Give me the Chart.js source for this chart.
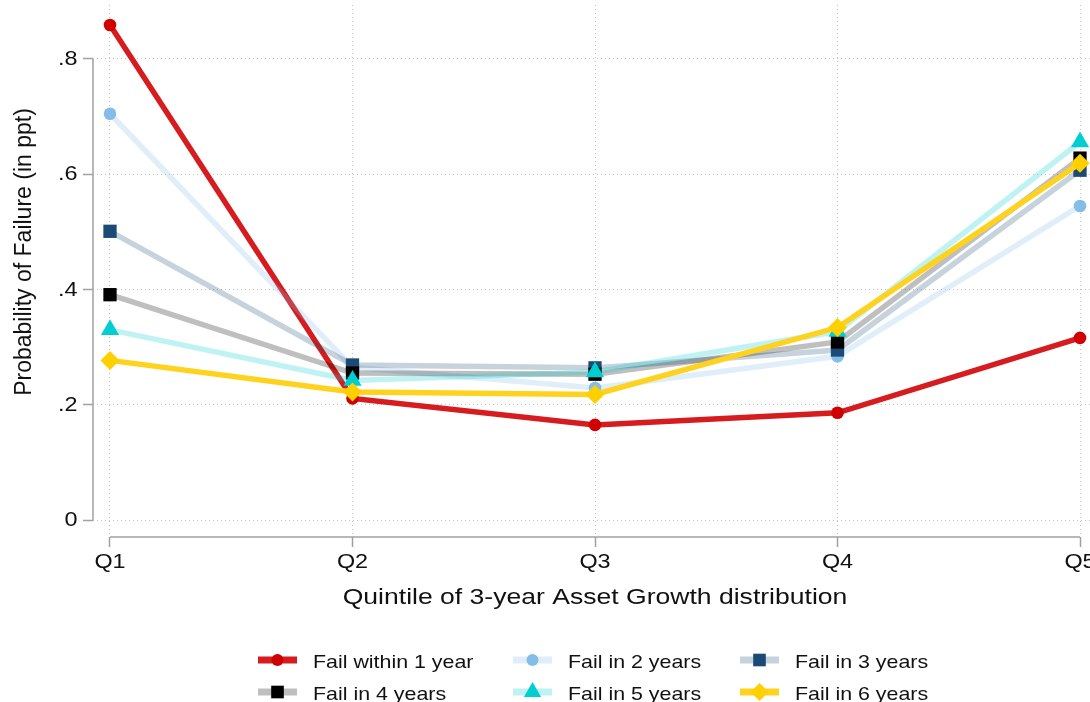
<!DOCTYPE html>
<html>
<head>
<meta charset="utf-8">
<script src="https://cdn.jsdelivr.net/npm/chart.js@4.4.1/dist/chart.umd.min.js"></script>
<style>
  html, body { margin: 0; padding: 0; background: #ffffff; }
  #wrap { width: 1090px; height: 702px; position: relative; }
</style>
</head>
<body>
<div id="wrap"><canvas id="chart"></canvas></div>
<script>
// Categories and tick labels
const quintiles = ['Q1', 'Q2', 'Q3', 'Q4', 'Q5'];
const yTickValues = [0, 0.2, 0.4, 0.6, 0.8];
const yTickLabels = ['0', '.2', '.4', '.6', '.8'];
const xTitle = 'Quintile of 3-year Asset Growth distribution';
const yTitle = 'Probability of Failure (in ppt)';
const seriesNames = ['Fail within 1 year', 'Fail in 2 years', 'Fail in 3 years',
                     'Fail in 4 years', 'Fail in 5 years', 'Fail in 6 years'];

// Probability of failure by asset-growth quintile, one array per horizon
const failWithin1 = [0.859, 0.211, 0.165, 0.186, 0.316];
const failIn2     = [0.705, 0.265, 0.229, 0.284, 0.545];
const failIn3     = [0.501, 0.269, 0.264, 0.295, 0.607];
const failIn4     = [0.391, 0.255, 0.253, 0.309, 0.628];
const failIn5     = [0.330, 0.242, 0.257, 0.327, 0.656];
const failIn6     = [0.277, 0.222, 0.218, 0.334, 0.619];

const seriesValues = [failWithin1, failIn2, failIn3, failIn4, failIn5, failIn6];

// Look of each series: line colour, marker colour, marker shape and size
const seriesStyles = [
  { line: 'rgb(214,28,30)',          marker: 'rgb(208,0,0)',     shape: 'circle',   r: 6.3 },
  { line: 'rgba(133,189,232,0.25)',  marker: 'rgb(133,189,232)', shape: 'circle',   r: 6.3 },
  { line: 'rgba(27,75,117,0.25)',    marker: 'rgb(27,75,117)',   shape: 'rect',     r: 9.4 },
  { line: 'rgba(0,0,0,0.25)',        marker: 'rgb(0,0,0)',       shape: 'rect',     r: 9.4 },
  { line: 'rgba(0,206,209,0.25)',    marker: 'rgb(0,206,209)',   shape: 'triangle', r: 10.5 },
  { line: 'rgb(255,210,30)',         marker: 'rgb(255,208,0)',   shape: 'rectRot',  r: 9.5 }
];

const FONT = '"Liberation Sans", Arial, Helvetica, sans-serif';
const AXIS_COLOR = 'rgb(160,160,160)';
const GRID_COLOR = 'rgb(195,195,195)';
const TEXT_COLOR = '#111111';

const datasets = seriesValues.map((vals, k) => ({
  label: seriesNames[k],
  data: vals.map((v, i) => ({ x: i + 1, y: v })),
  borderColor: seriesStyles[k].line,
  borderWidth: 5.5,
  backgroundColor: seriesStyles[k].marker,
  pointStyle: seriesStyles[k].shape,
  pointRadius: seriesStyles[k].r,
  pointBackgroundColor: seriesStyles[k].marker,
  pointBorderColor: seriesStyles[k].marker,
  pointBorderWidth: 0,
  tension: 0,
  fill: false,
  clip: false,
  order: seriesValues.length - k   // first series sits underneath
}));

// Text drawn slightly widened, as in the rest of the figure
function wideText(ctx, text, x, y, sx, align, baseline) {
  ctx.save();
  ctx.translate(x, y);
  ctx.scale(sx, 1);
  ctx.textAlign = align;
  ctx.textBaseline = baseline;
  ctx.fillText(text, 0, 0);
  ctx.restore();
}

function drawMarker(ctx, shape, r, x, y, color) {
  ctx.save();
  ctx.fillStyle = color;
  ctx.beginPath();
  if (shape === 'circle') {
    ctx.arc(x, y, r, 0, Math.PI * 2);
  } else if (shape === 'rect') {
    const s = Math.SQRT1_2 * r;
    ctx.rect(x - s, y - s, 2 * s, 2 * s);
  } else if (shape === 'triangle') {
    ctx.moveTo(x, y - r);
    ctx.lineTo(x + Math.sin(Math.PI / 3) * r, y + r / 2);
    ctx.lineTo(x - Math.sin(Math.PI / 3) * r, y + r / 2);
    ctx.closePath();
  } else if (shape === 'rectRot') {
    ctx.moveTo(x - r, y);
    ctx.lineTo(x, y - r);
    ctx.lineTo(x + r, y);
    ctx.lineTo(x, y + r);
    ctx.closePath();
  }
  ctx.fill();
  ctx.restore();
}

const frame = {
  id: 'frame',
  beforeDatasetsDraw(chart) {
    const { ctx, chartArea, scales: { x, y } } = chart;
    ctx.save();
    ctx.strokeStyle = AXIS_COLOR;
    ctx.lineWidth = 1.5;
    // y axis spans the labelled range only
    ctx.beginPath();
    ctx.moveTo(chartArea.left, y.getPixelForValue(yTickValues[0]));
    ctx.lineTo(chartArea.left, y.getPixelForValue(yTickValues[yTickValues.length - 1]));
    ctx.stroke();
    // x axis from first to last quintile
    ctx.beginPath();
    ctx.moveTo(x.getPixelForValue(1), chartArea.bottom);
    ctx.lineTo(x.getPixelForValue(quintiles.length), chartArea.bottom);
    ctx.stroke();
    ctx.restore();
  },
  afterDraw(chart) {
    const { ctx, chartArea, scales: { x, y } } = chart;
    ctx.save();
    ctx.fillStyle = TEXT_COLOR;

    // y tick labels
    ctx.font = '20px ' + FONT;
    yTickValues.forEach((v, i) => {
      wideText(ctx, yTickLabels[i], chartArea.left - 15.5, y.getPixelForValue(v) + 0.5, 1.17, 'right', 'middle');
    });
    // x tick labels
    quintiles.forEach((q, i) => {
      wideText(ctx, q, x.getPixelForValue(i + 1), chartArea.bottom + 31, 1.17, 'center', 'alphabetic');
    });

    // axis titles
    ctx.font = '22.5px ' + FONT;
    wideText(ctx, xTitle, (x.getPixelForValue(1) + x.getPixelForValue(quintiles.length)) / 2,
             chartArea.bottom + 66.5, 1.18, 'center', 'alphabetic');
    ctx.save();
    ctx.font = '23px ' + FONT;
    ctx.translate(25, 252);
    ctx.rotate(-Math.PI / 2);
    ctx.textAlign = 'center';
    ctx.textBaseline = 'middle';
    ctx.fillText(yTitle, 0, 0);
    ctx.restore();

    // legend: three columns, two rows
    const colX = [258, 513, 740];
    const rowY = [660, 692];
    const sampleLen = 39;
    ctx.font = '18.6px ' + FONT;
    seriesNames.forEach((name, k) => {
      const cx = colX[k % 3];
      const cy = rowY[Math.floor(k / 3)];
      const st = seriesStyles[k];
      ctx.save();
      ctx.strokeStyle = st.line;
      ctx.lineWidth = 7;
      ctx.beginPath();
      ctx.moveTo(cx, cy);
      ctx.lineTo(cx + sampleLen, cy);
      ctx.stroke();
      ctx.restore();
      drawMarker(ctx, st.shape, st.r * 0.95, cx + sampleLen / 2, cy, st.marker);
      ctx.fillStyle = TEXT_COLOR;
      wideText(ctx, name, cx + sampleLen + 16, cy + 7.5, 1.15, 'left', 'alphabetic');
    });
    ctx.restore();
  }
};

const gridOptions = {
  color: GRID_COLOR, lineWidth: 1,
  drawTicks: true, tickLength: 10, tickColor: AXIS_COLOR, tickWidth: 1.5, tickBorderDash: []
};

new Chart(document.getElementById('chart'), {
  type: 'line',
  data: { datasets },
  options: {
    responsive: true,
    maintainAspectRatio: false,
    animation: false,
    events: [],
    layout: { autoPadding: false, padding: { top: 5, right: 0, bottom: 0, left: 0 } },
    plugins: { legend: { display: false }, tooltip: { enabled: false } },
    scales: {
      x: {
        type: 'linear',
        min: 0.9299,
        max: 5.0412,
        afterBuildTicks(scale) { scale.ticks = quintiles.map((q, i) => ({ value: i + 1 })); },
        afterFit(scale) { scale.height = 165; },
        ticks: { display: false },
        border: { display: false, dash: [1, 3] },
        grid: gridOptions
      },
      y: {
        type: 'linear',
        min: -0.0295,
        max: 0.8937,
        afterBuildTicks(scale) { scale.ticks = yTickValues.map(v => ({ value: v })); },
        afterFit(scale) { scale.width = 93; },
        ticks: { display: false },
        border: { display: false, dash: [1, 3] },
        grid: gridOptions
      }
    }
  },
  plugins: [frame]
});
</script>
</body>
</html>
